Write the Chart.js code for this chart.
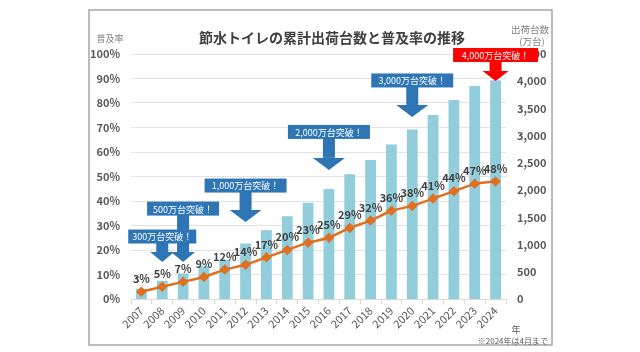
<!DOCTYPE html>
<html>
<head>
<meta charset="utf-8">
<script src="https://cdn.jsdelivr.net/npm/chart.js@4"></script>
<style>
  html, body { margin: 0; padding: 0; background: #fff; }
  #wrap { width: 640px; height: 352px; }
</style>
</head>
<body>
<div id="wrap"><canvas id="chart" width="640" height="352"></canvas></div>
<script>
// ---------------- DATA ----------------
const years = ["2007", "2008", "2009", "2010", "2011", "2012", "2013", "2014", "2015",
               "2016", "2017", "2018", "2019", "2020", "2021", "2022", "2023", "2024"];
// cumulative shipments (万台)
const shipments = [190, 335, 470, 605, 715, 1020, 1265, 1520, 1770,
                   2020, 2290, 2555, 2840, 3115, 3380, 3655, 3910, 4020];
// penetration rate (%)
const rates = [3, 5, 7, 9, 12, 14, 17, 20, 23, 25, 29, 32, 36, 38, 41, 44, 47, 48];
const rateTicks = [0, 10, 20, 30, 40, 50, 60, 70, 80, 90, 100];
const unitTicks = [0, 500, 1000, 1500, 2000, 2500, 3000, 3500, 4000, 4500];

const milestoneText = ["300万台突破！", "500万台突破！", "1,000万台突破！",
                       "2,000万台突破！", "3,000万台突破！", "4,000万台突破！"];
const milestoneYear = ["2008", "2009", "2012", "2016", "2020", "2024"];

// callout placement (on the % axis), drawn by the plugin below
const calloutLayout = [
    { box: 25.5, tip: 15.1, w: 68, head: 24, color: "#2E75B6" },
    { box: 36.9, tip: 15.1, w: 72, head: 24, color: "#2E75B6" },
    { box: 46.3, tip: 31.4, w: 82, head: 32, color: "#2E75B6" },
    { box: 68.2, tip: 52.7, w: 82, head: 32, color: "#2E75B6" },
    { box: 89.2, tip: 74.3, w: 82, head: 32, color: "#2E75B6" },
    { box: 99.6, tip: 89.0, w: 85, head: 26, color: "#FF0000" }
];

const FONT = "'Noto Sans CJK JP', 'Noto Sans', sans-serif";

// ---------------- PLUGINS ----------------
const frame = {
    id: "frame",
    beforeDraw(chart) {
        const c = chart.ctx;
        c.save();
        c.strokeStyle = "#a6a6a6";
        c.lineWidth = 1.5;
        c.strokeRect(89, 10, 463, 335);

        c.fillStyle = "#404040";
        c.font = "bold 14px " + FONT;
        c.textAlign = "center";
        c.textBaseline = "middle";
        c.fillText("節水トイレの累計出荷台数と普及率の推移", 332, 38);

        c.fillStyle = "#7f7f7f";
        c.font = "9px " + FONT;
        c.fillText("普及率", 110, 39);
        c.font = "9.5px " + FONT;
        c.fillText("出荷台数", 530, 29);
        c.fillText("(万台)", 532, 41);

        c.font = "9px " + FONT;
        c.fillStyle = "#595959";
        c.fillText("年", 516, 330);
        c.textAlign = "right";
        c.font = "8px " + FONT;
        c.fillText("※2024年は4月まで", 548, 341);
        c.restore();
    }
};

const rateLabels = {
    id: "rateLabels",
    afterDatasetsDraw(chart) {
        const c = chart.ctx;
        const meta = chart.getDatasetMeta(0);
        c.save();
        c.fillStyle = "#404040";
        c.font = "bold 11px " + FONT;
        c.textAlign = "center";
        c.textBaseline = "middle";
        meta.data.forEach((pt, i) => {
            c.fillText(rates[i] + "%", pt.x, pt.y - 13);
        });
        c.restore();
    }
};

const callouts = {
    id: "callouts",
    afterDraw(chart) {
        const c = chart.ctx;
        const xs = chart.scales.x;
        const ys = chart.scales.y;
        c.save();
        // arrows first, so later boxes sit over earlier shafts
        calloutLayout.forEach((a, i) => {
            const x = xs.getPixelForValue(years.indexOf(milestoneYear[i]));
            const yBox = ys.getPixelForValue(a.box);
            const yTip = ys.getPixelForValue(a.tip);
            const headH = a.head > 26 ? 12 : 10;
            c.fillStyle = a.color;
            c.fillRect(x - 6, yBox, 12, yTip - headH - yBox);
            c.beginPath();
            c.moveTo(x - a.head / 2, yTip - headH);
            c.lineTo(x + a.head / 2, yTip - headH);
            c.lineTo(x, yTip);
            c.closePath();
            c.fill();
        });
        c.font = "9px " + FONT;
        c.textAlign = "center";
        c.textBaseline = "middle";
        calloutLayout.forEach((a, i) => {
            const x = xs.getPixelForValue(years.indexOf(milestoneYear[i]));
            const yBox = ys.getPixelForValue(a.box);
            c.fillStyle = a.color;
            c.fillRect(x - a.w / 2, yBox - 7, a.w, 14);
            c.fillStyle = "#ffffff";
            c.fillText(milestoneText[i], x, yBox + 0.5);
        });
        c.restore();
    }
};

// ---------------- CHART ----------------
const ctx = document.getElementById("chart").getContext("2d");

new Chart(ctx, {
    data: {
        labels: years,
        datasets: [
            {
                type: "line",
                label: "普及率",
                data: rates,
                yAxisID: "y",
                borderColor: "#E07020",
                backgroundColor: "#E07020",
                borderWidth: 2.5,
                pointStyle: "rectRot",
                pointRadius: 3.5,
                tension: 0.15,
                order: 0
            },
            {
                type: "bar",
                label: "出荷台数",
                data: shipments,
                yAxisID: "y1",
                backgroundColor: "#92CDDC",
                barPercentage: 0.52,
                categoryPercentage: 1,
                order: 1
            }
        ]
    },
    options: {
        responsive: false,
        animation: false,
        layout: { padding: { left: 89, right: 88, top: 54, bottom: 7 } },
        plugins: {
            legend: { display: false },
            tooltip: { enabled: false }
        },
        scales: {
            x: {
                grid: { drawOnChartArea: false, color: "#d9d9d9", tickLength: 5 },
                border: { color: "#d9d9d9" },
                ticks: {
                    color: "#595959",
                    font: { family: FONT, size: 11 },
                    autoSkip: false,
                    minRotation: 45,
                    maxRotation: 45,
                    padding: 0
                },
                afterFit: s => { s.height = 46; }
            },
            y: {
                position: "left",
                min: 0,
                max: 100,
                afterBuildTicks: s => { s.ticks = rateTicks.map(v => ({ value: v })); },
                grid: { color: "#e3e3e3", drawTicks: false },
                border: { display: false },
                ticks: {
                    color: "#595959",
                    padding: 11,
                    font: { family: FONT, size: 11, weight: "bold" },
                    callback: v => v + "%"
                },
                afterFit: s => { s.width = 42; }
            },
            y1: {
                position: "right",
                min: 0,
                max: 4500,
                afterBuildTicks: s => { s.ticks = unitTicks.map(v => ({ value: v })); },
                grid: { display: false, drawTicks: false },
                border: { display: false },
                ticks: {
                    color: "#595959",
                    padding: 11,
                    font: { family: FONT, size: 11, weight: "bold" },
                    callback: v => v.toLocaleString("en-US")
                },
                afterFit: s => { s.width = 46; }
            }
        }
    },
    plugins: [frame, rateLabels, callouts]
});
</script>
</body>
</html>
